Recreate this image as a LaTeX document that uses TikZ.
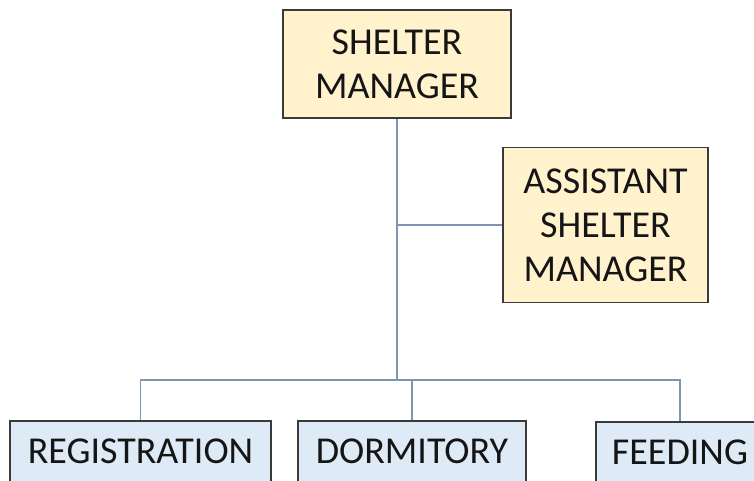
\documentclass[tikz,border=0pt]{standalone}
\usepackage{fontspec}
\setmainfont{Carlito}
\definecolor{mgrfill}{HTML}{FFF2CC}
\definecolor{unitfill}{HTML}{DEEBF7}
\definecolor{boxline}{HTML}{3A3A3A}
\definecolor{linkline}{HTML}{7F96B2}
\definecolor{txt}{HTML}{151515}
\tikzset{
  boxbase/.style={draw=boxline, line width=1.3pt, inner sep=0pt, align=center,
    text=txt, font=\fontsize{38}{44}\selectfont},
  mgrbox/.style={boxbase, fill=mgrfill},
  unitbox/.style={boxbase, fill=unitfill},
  link/.style={draw=linkline, line width=1.4pt}
}
\begin{document}
\begin{tikzpicture}[x=1pt, y=-1pt]
\useasboundingbox (0,0) rectangle (754,481);
\clip (0,0) rectangle (754,481);
\fill[white] (0,0) rectangle (754,481);
\node[mgrbox, minimum width=228pt, minimum height=108pt] (sm) at (397,64) {SHELTER\\MANAGER};
\node[mgrbox, minimum width=205pt, minimum height=155pt] (asm) at (605.5,225) {ASSISTANT\\SHELTER\\MANAGER};
\node[unitbox, minimum width=261pt, minimum height=61pt] (reg) at (140.5,451.5) {REGISTRATION};
\node[unitbox, minimum width=228pt, minimum height=61pt] (dor) at (412,451.5) {DORMITORY};
\node[unitbox, minimum width=168pt, minimum height=61pt] (fee) at (680,452.5) {FEEDING};
\coordinate (bus) at (397,380);
\draw[link] (sm.south) -- (bus);
\draw[link] (asm.west) -- (asm.west -| sm.south);
\draw[link] (reg.north) -- (reg.north |- bus) -- (fee.north |- bus) -- (fee.north);
\draw[link] (dor.north) -- (dor.north |- bus);
\end{tikzpicture}
\end{document}
